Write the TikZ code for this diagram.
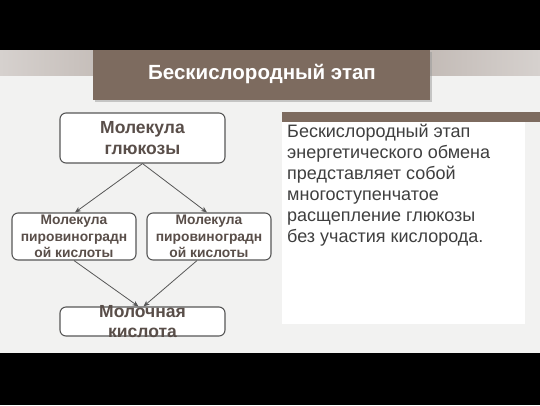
\documentclass[tikz,border=0pt]{standalone}
\usepackage{fontspec}
\setmainfont{Liberation Sans}
\usetikzlibrary{arrows.meta,shadows}
\definecolor{brownbar}{HTML}{7D6B5F}
\definecolor{slidebg}{HTML}{F2F2F1}
\definecolor{bandmid}{HTML}{A89C95}
\definecolor{bandside}{HTML}{D6D1CE}
\definecolor{boxtext}{HTML}{594E49}
\definecolor{boxline}{HTML}{575757}
\definecolor{bodytext}{HTML}{3F3F3F}
\tikzset{
  flowbox/.style={draw=boxline, line width=1.1pt, fill=white, rounded corners=6pt, align=center, text=boxtext, font=\bfseries, inner sep=1pt},
  flowarrow/.style={draw=boxline, line width=0.8pt, -{Stealth[length=6pt,width=5pt]}}
}
\begin{document}
\begin{tikzpicture}[x=1pt,y=-1pt]
\useasboundingbox (0,0) rectangle (540,405);
% backgrounds
\fill[black] (0,0) rectangle (540,50);
\fill[black] (0,353) rectangle (540,405);
\fill[slidebg] (0,50) rectangle (540,353);
\shade[left color=bandside, right color=bandside, middle color=bandmid] (0,50) rectangle (540,75);
% title
\fill[black!40, opacity=0.5] (95,52) rectangle (432,102);
\fill[brownbar] (93,50) rectangle (430,100);
\node[font=\bfseries\fontsize{20.5}{24}\selectfont, text=white] (title) at (262,74) {Бескислородный этап};
% right panel
\fill[white] (282,122) rectangle (525,324);
\fill[brownbar] (282,112) rectangle (540,122);
\node[anchor=north west, align=left, text=bodytext, font=\fontsize{18}{21}\selectfont, inner sep=0pt] (desc) at (287,124)
 {Бескислородный этап\\энергетического обмена\\представляет собой\\многоступенчатое\\расщепление глюкозы\\без участия кислорода.};
% flowchart
\node[flowbox, minimum width=165pt, minimum height=50pt, font=\bfseries\fontsize{17.5}{21}\selectfont] (glu) at (142.5,138) {Молекула\\глюкозы};
\node[flowbox, minimum width=124pt, minimum height=47pt, font=\bfseries\fontsize{13.8}{16.5}\selectfont] (lp) at (74,236.5) {Молекула\\пировиноградн\\ой кислоты};
\node[flowbox, minimum width=124pt, minimum height=47pt, font=\bfseries\fontsize{13.8}{16.5}\selectfont] (rp) at (209,236.5) {Молекула\\пировиноградн\\ой кислоты};
\node[flowbox, minimum width=165pt, minimum height=29pt,
  label={[text=boxtext, align=center, font=\bfseries\fontsize{17.5}{20}\selectfont]center:Молочная\\кислота}] (lac) at (142.5,321.5) {};
\draw[flowarrow] (glu.south) -- ([xshift=1pt]lp.north);
\draw[flowarrow] (glu.south) -- ([xshift=-2pt]rp.north);
\draw[flowarrow] (lp.south) -- ([xshift=-4pt]lac.north);
\draw[flowarrow] ([xshift=-12pt]rp.south) -- ([xshift=1pt]lac.north);
\end{tikzpicture}
\end{document}
